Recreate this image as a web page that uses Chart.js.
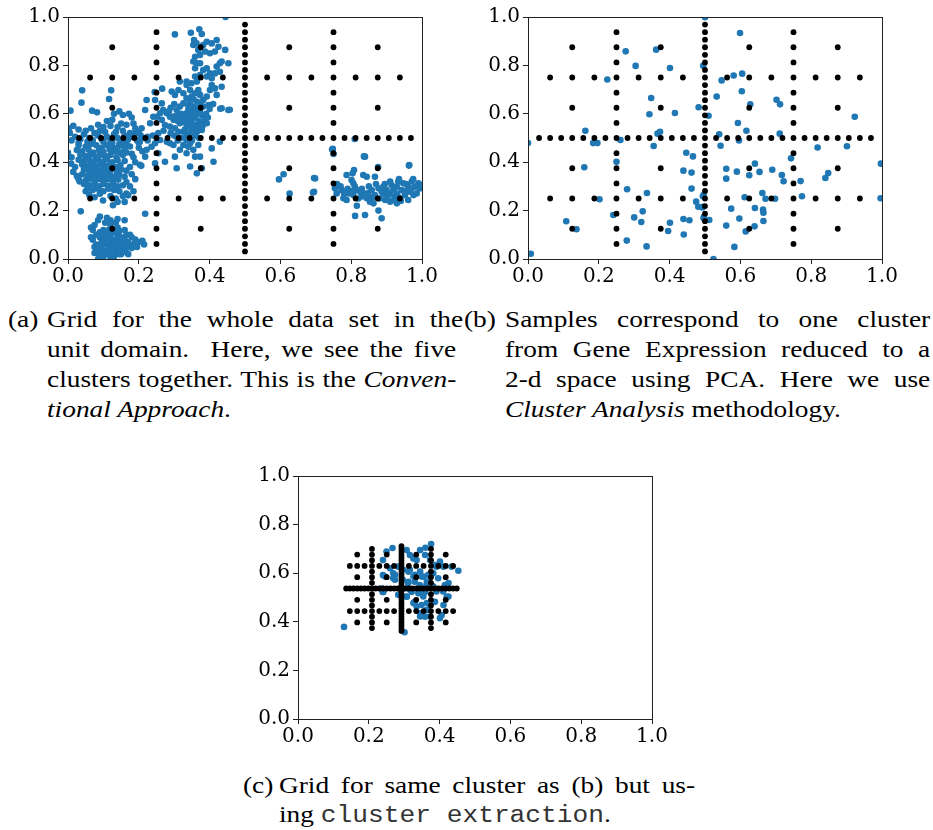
<!DOCTYPE html>
<html><head><meta charset="utf-8">
<script src="https://cdn.jsdelivr.net/npm/chart.js@4/dist/chart.umd.min.js"></script>
<style>
html,body{margin:0;padding:0;background:#fff;}
body{width:933px;height:830px;position:relative;overflow:hidden;}
canvas{position:absolute;}
.cap{position:absolute;font-family:"Liberation Serif",serif;font-size:24px;line-height:30px;color:#000;white-space:nowrap;transform:scaleX(1.14);transform-origin:0 0;}
.j{text-align:justify;text-align-last:justify;}
.mono{font-family:"Liberation Mono",monospace;font-size:23px;color:#333;}
</style></head>
<body>
<canvas id="ca" width="450" height="290" style="left:0;top:0"></canvas>
<canvas id="cb" width="473" height="290" style="left:460px;top:0"></canvas>
<canvas id="cc" width="450" height="291" style="left:230px;top:459px"></canvas>

<div class="cap" style="left:8px;top:304px">(a)</div>
<div class="cap j" style="left:47px;top:304px;width:365px">Grid for the whole data set in the</div>
<div class="cap j" style="left:47px;top:334px;width:359px">unit domain.&nbsp; Here, we see the five</div>
<div class="cap j" style="left:47px;top:364px;width:359px">clusters together. This is the <i>Conven-</i></div>
<div class="cap" style="left:47px;top:394px"><i>tional Approach</i>.</div>

<div class="cap" style="left:464px;top:304px">(b)</div>
<div class="cap j" style="left:505px;top:304px;width:373px">Samples correspond to one cluster</div>
<div class="cap j" style="left:505px;top:334px;width:373px">from Gene Expression reduced to a</div>
<div class="cap j" style="left:505px;top:364px;width:373px">2-d space using PCA. Here we use</div>
<div class="cap" style="left:505px;top:394px"><i>Cluster Analysis</i> methodology.</div>

<div class="cap" style="left:243px;top:770px">(c)</div>
<div class="cap j" style="left:279px;top:770px;width:365px">Grid for same cluster as (b) but us-</div>
<div class="cap" style="left:279px;top:799px">ing <span class="mono">cluster extraction</span>.</div>

<script>
// ---------- tick labels ----------
const tickValues = [0, 0.2, 0.4, 0.6, 0.8, 1.0];

// ---------- sparse grid (indices in units of 1/32 of the grid box) ----------
const gridColsA = [16];
const gridRowsA = [1,2,3,4,5,6,7,8,9,10,11,12,13,14,15,16,17,18,19,20,21,22,23,24,25,26,27,28,29,30,31];
const gridColsB = [8,24];
const gridRowsB = [2,4,6,8,10,12,14,16,18,20,22,24,26,28,30];
const gridColsC = [4,12,20,28];
const gridRowsC = [4,8,12,16,20,24,28];
const gridColsD = [2,6,10,14,18,22,26,30];
const gridRowsD = [8,16,24];
const gridColsE = [1,3,5,7,9,11,13,15,17,19,21,23,25,27,29,31];
const gridRowsE = [16];

// grid boxes: (a),(b) whole unit domain, (c) extracted cluster box
const boxUnitX = [0, 1], boxUnitY = [0, 1];
const boxClusterX = [0.1256, 0.459], boxClusterY = [0.351, 0.723];

// ---------- blue samples ----------
const blueA = [
// bottom cluster
[0.065,0.13],[0.07,0.12],[0.075,0.14],[0.085,0.16],[0.09,0.175],[0.11,0.17],[0.105,0.15],[0.12,0.14],[0.135,0.15],[0.14,0.13],[0.16,0.12],[0.165,0.10],[0.18,0.09],[0.19,0.08],[0.2,0.07],[0.215,0.06],[0.185,0.06],[0.17,0.05],[0.155,0.04],[0.15,0.02],[0.14,0.03],[0.13,0.01],[0.12,0.0],[0.11,0.02],[0.1,0.01],[0.09,0.03],[0.085,0.0],[0.075,0.05],[0.07,0.08],[0.065,0.09],[0.08,0.10],[0.09,0.09],[0.095,0.07],[0.1,0.06],[0.105,0.08],[0.11,0.10],[0.115,0.12],[0.12,0.09],[0.125,0.07],[0.13,0.06],[0.135,0.08],[0.14,0.1],[0.145,0.07],[0.15,0.09],[0.155,0.06],[0.16,0.08],[0.17,0.07],[0.175,0.1],[0.13,0.11],[0.1,0.12],[0.09,0.11],[0.08,0.06],[0.085,0.04],[0.095,0.05],[0.105,0.03],[0.115,0.05],[0.12,0.04],[0.125,0.02],[0.135,0.04],[0.14,0.055],[0.145,0.02],[0.16,0.03],[0.165,0.045],[0.11,0.07],[0.1,0.095],[0.12,0.11],[0.145,0.115],[0.075,0.025],[0.09,0.015],[0.11,0.035],[0.13,0.035],[0.15,0.055],[0.17,0.02],[0.18,0.045],[0.195,0.05],[0.036,0.197],[0.218,0.187],[0.21,0.075],[0.12,0.16],[0.16,0.16],[0.14,0.165],
// left cluster, upper sparse part
[0.04,0.697],[0.038,0.646],[0.007,0.613],[0.116,0.661],[0.122,0.697],[0.068,0.613],[0.082,0.606],[0.002,0.54],[0.005,0.521],[0.125,0.575],[0.11,0.57],[0.13,0.60],[0.145,0.61],[0.155,0.595],[0.172,0.60],[0.18,0.585],[0.185,0.56],[0.165,0.555],[0.15,0.56],[0.14,0.545],[0.12,0.55],[0.1,0.545],[0.085,0.555],[0.065,0.54],[0.05,0.53],[0.03,0.535],[0.015,0.55],[0.19,0.54],[0.2,0.525],[0.175,0.52],[0.155,0.53],[0.135,0.525],[0.105,0.525],[0.09,0.53],[0.075,0.52],
// left cluster, band near y=0.5
[0.02,0.505],[0.035,0.495],[0.045,0.515],[0.06,0.5],[0.07,0.49],[0.085,0.51],[0.095,0.495],[0.11,0.505],[0.12,0.49],[0.13,0.515],[0.14,0.5],[0.15,0.49],[0.16,0.51],[0.17,0.495],[0.18,0.505],[0.195,0.49],[0.205,0.51],[0.215,0.5],[0.225,0.49],[0.19,0.52],[0.165,0.48],[0.145,0.475],[0.125,0.48],[0.1,0.485],[0.055,0.485],[0.03,0.48],[0.01,0.49],
[0.2,0.46],[0.21,0.445],[0.18,0.435],[0.185,0.42],[0.165,0.44],[0.207,0.385],[0.19,0.40],[0.175,0.465],[0.2,0.48],[0.16,0.455],
// left cluster, dense core
[0.03,0.47],[0.05,0.465],[0.065,0.475],[0.08,0.47],[0.095,0.46],[0.11,0.47],[0.125,0.465],[0.14,0.46],[0.155,0.47],
[0.025,0.45],[0.04,0.445],[0.058,0.452],[0.072,0.44],[0.088,0.45],[0.1,0.443],[0.118,0.452],[0.133,0.445],[0.148,0.44],
[0.035,0.43],[0.05,0.425],[0.063,0.432],[0.078,0.42],[0.09,0.43],[0.105,0.425],[0.12,0.43],[0.137,0.42],[0.155,0.43],
[0.03,0.41],[0.045,0.405],[0.06,0.41],[0.072,0.4],[0.085,0.41],[0.098,0.402],[0.11,0.412],[0.125,0.4],[0.14,0.408],[0.16,0.405],
[0.04,0.39],[0.055,0.385],[0.068,0.392],[0.08,0.383],[0.093,0.39],[0.107,0.385],[0.12,0.392],[0.133,0.38],[0.148,0.388],
[0.045,0.37],[0.06,0.365],[0.072,0.372],[0.085,0.362],[0.097,0.37],[0.11,0.365],[0.123,0.372],[0.138,0.36],[0.15,0.37],[0.165,0.365],
[0.04,0.35],[0.055,0.345],[0.068,0.352],[0.08,0.342],[0.092,0.35],[0.105,0.345],[0.118,0.352],[0.13,0.34],[0.145,0.348],[0.16,0.34],
[0.03,0.33],[0.05,0.325],[0.063,0.332],[0.076,0.322],[0.09,0.33],[0.102,0.322],[0.115,0.33],[0.128,0.32],[0.142,0.328],[0.165,0.318],
[0.045,0.31],[0.06,0.305],[0.075,0.31],[0.088,0.3],[0.1,0.31],[0.113,0.302],[0.127,0.31],[0.14,0.3],[0.155,0.305],
[0.055,0.29],[0.07,0.285],[0.085,0.29],[0.1,0.28],[0.115,0.29],[0.13,0.285],[0.145,0.28],
[0.06,0.265],[0.075,0.255],[0.09,0.27],[0.12,0.26],[0.135,0.25],[0.155,0.26],[0.165,0.27],[0.14,0.236],[0.127,0.222],[0.099,0.242],[0.16,0.236],[0.17,0.263],[0.025,0.343],[0.033,0.32],[0.009,0.394],[0.0,0.439],[0.015,0.36],[0.01,0.42],[0.02,0.38],
[0.05,0.28],[0.175,0.3],[0.18,0.35],[0.19,0.33],[0.175,0.38],[0.185,0.28],
// middle cluster
[0.302,0.928],[0.347,0.935],[0.371,0.949],[0.378,0.930],[0.356,0.905],[0.363,0.891],[0.354,0.884],[0.368,0.864],[0.382,0.884],[0.392,0.898],[0.406,0.891],[0.420,0.905],[0.425,0.877],[0.415,0.857],[0.401,0.850],[0.387,0.857],[0.373,0.843],[0.359,0.836],[0.354,0.816],[0.364,0.809],[0.359,0.788],[0.373,0.809],[0.382,0.781],[0.392,0.788],[0.401,0.767],[0.406,0.747],[0.420,0.795],[0.429,0.809],[0.434,0.816],[0.444,0.864],[0.453,0.809],[0.429,0.774],[0.415,0.767],[0.392,0.754],[0.373,0.760],[0.359,0.754],[0.364,0.733],[0.349,0.726],[0.335,0.733],[0.335,0.719],[0.345,0.698],[0.349,0.671],[0.359,0.685],[0.368,0.698],[0.373,0.678],[0.382,0.657],[0.392,0.671],[0.397,0.636],[0.382,0.630],[0.373,0.616],[0.364,0.623],[0.354,0.630],[0.340,0.636],[0.326,0.643],[0.316,0.630],[0.307,0.616],[0.312,0.595],[0.321,0.588],[0.335,0.602],[0.345,0.588],[0.354,0.581],[0.364,0.602],[0.378,0.595],[0.387,0.581],[0.392,0.561],[0.378,0.561],[0.368,0.547],[0.359,0.554],[0.349,0.561],[0.335,0.554],[0.326,0.568],[0.316,0.561],[0.298,0.575],[0.288,0.588],[0.279,0.602],[0.269,0.616],[0.260,0.602],[0.251,0.588],[0.265,0.575],[0.274,0.554],[0.288,0.547],[0.302,0.540],[0.312,0.526],[0.326,0.526],[0.335,0.513],[0.345,0.520],[0.354,0.533],[0.364,0.526],[0.378,0.533],[0.335,0.492],[0.345,0.478],[0.326,0.471],[0.340,0.464],[0.354,0.451],[0.368,0.471],[0.373,0.423],[0.359,0.423],[0.335,0.437],[0.316,0.451],[0.302,0.423],[0.298,0.471],[0.288,0.478],[0.279,0.485],[0.260,0.492],[0.246,0.478],[0.236,0.464],[0.222,0.451],[0.203,0.485],[0.218,0.423],[0.203,0.389],[0.255,0.437],[0.246,0.395],[0.274,0.402],[0.307,0.375],[0.345,0.382],[0.364,0.354],[0.378,0.375],[0.406,0.457],[0.411,0.402],[0.429,0.485],[0.434,0.623],[0.453,0.616],[0.420,0.678],[0.415,0.705],[0.434,0.712],[0.316,0.733],[0.293,0.692],[0.302,0.678],[0.222,0.657],[0.246,0.657],[0.265,0.643],[0.218,0.616],[0.241,0.588],[0.232,0.561],[0.208,0.540],[0.312,0.698],[0.326,0.685],[0.335,0.664],[0.401,0.698],[0.406,0.719],
[0.33,0.58],[0.34,0.57],[0.35,0.6],[0.36,0.59],[0.37,0.57],[0.34,0.62],[0.355,0.61],[0.345,0.545],[0.33,0.535],[0.36,0.51],[0.37,0.5],[0.38,0.55],[0.39,0.6],[0.40,0.62],[0.41,0.64],[0.395,0.585],[0.32,0.6],[0.31,0.57],[0.3,0.59],[0.285,0.61],[0.29,0.625],[0.3,0.64],[0.375,0.64],[0.365,0.65],[0.355,0.66],[0.345,0.65],[0.34,0.5],[0.32,0.5],[0.31,0.49],[0.35,0.49],[0.3,0.51],[0.29,0.52],[0.27,0.53],[0.255,0.52],[0.24,0.51],[0.225,0.505],[0.266,0.704],[0.245,0.69],[0.445,1.0],[0.457,0.617],[0.43,0.621],
// right cluster
[0.748,0.455],[0.750,0.434],[0.839,0.423],[0.964,0.388],[0.698,0.333],[0.695,0.278],[0.787,0.347],[0.808,0.368],[0.804,0.354],[0.801,0.326],[0.806,0.313],[0.834,0.347],[0.844,0.340],[0.867,0.340],[0.754,0.292],[0.759,0.271],[0.773,0.285],[0.778,0.251],[0.787,0.244],[0.792,0.271],[0.806,0.264],[0.816,0.285],[0.825,0.278],[0.830,0.258],[0.844,0.251],[0.848,0.271],[0.858,0.285],[0.867,0.264],[0.877,0.292],[0.886,0.278],[0.891,0.299],[0.900,0.285],[0.905,0.264],[0.914,0.306],[0.919,0.285],[0.924,0.258],[0.929,0.299],[0.933,0.320],[0.943,0.285],[0.947,0.313],[0.952,0.264],[0.961,0.299],[0.966,0.278],[0.971,0.320],[0.980,0.299],[0.985,0.271],[0.990,0.313],[0.994,0.292],[0.816,0.220],[0.839,0.182],[0.877,0.200],[0.886,0.168],[0.811,0.178],[0.853,0.237],[0.863,0.230],[0.896,0.244],[0.938,0.251],[0.929,0.230],[0.910,0.237],[0.976,0.264],[0.961,0.244],
[0.76,0.31],[0.77,0.30],[0.79,0.29],[0.81,0.30],[0.83,0.29],[0.85,0.30],[0.87,0.31],[0.89,0.27],[0.91,0.27],[0.93,0.27],[0.95,0.28],[0.97,0.29],[0.99,0.30],[1.0,0.305],[0.86,0.255],[0.88,0.25],[0.9,0.255],[0.92,0.245],[0.94,0.24],[0.82,0.25],[0.84,0.27],[0.80,0.28],[0.78,0.27],[0.955,0.31],[0.975,0.33],[0.935,0.33],[0.91,0.32],[0.895,0.31],
[0.596,0.329],[0.609,0.35],[0.626,0.27],[0.695,0.335],[0.692,0.275],[0.746,0.452],[0.81,0.496],[0.836,0.424],[0.876,0.38],[0.963,0.386]
];

const blueB = [
[0.0,0.479],[0.008,0.022],[0.108,0.156],[0.137,0.123],[0.159,0.379],[0.162,0.530],[0.184,0.479],[0.196,0.479],[0.202,0.247],[0.224,0.742],[0.241,0.182],[0.250,0.402],[0.261,0.492],[0.276,0.858],[0.280,0.288],[0.279,0.076],[0.300,0.172],[0.304,0.798],[0.320,0.153],[0.324,0.197],[0.336,0.273],[0.335,0.052],[0.343,0.598],[0.348,0.665],[0.355,0.467],[0.362,0.865],[0.366,0.518],[0.373,0.526],[0.401,0.789],[0.396,0.116],[0.401,0.150],[0.415,0.603],[0.439,0.365],[0.439,0.165],[0.440,0.101],[0.447,0.439],[0.456,0.160],[0.462,0.357],[0.462,0.291],[0.466,0.424],[0.475,0.237],[0.481,0.216],[0.482,0.627],[0.492,0.213],[0.495,0.799],[0.494,0.259],[0.496,0.168],[0.500,0.999],[0.510,0.592],[0.512,0.161],[0.524,0.0],[0.533,0.671],[0.540,0.515],[0.544,0.468],[0.547,0.738],[0.560,0.373],[0.560,0.332],[0.560,0.138],[0.574,0.208],[0.581,0.758],[0.583,0.050],[0.590,0.361],[0.593,0.562],[0.596,0.490],[0.597,0.167],[0.599,0.934],[0.604,0.693],[0.605,0.766],[0.612,0.255],[0.615,0.114],[0.617,0.530],[0.625,0.346],[0.628,0.639],[0.640,0.135],[0.641,0.394],[0.641,0.211],[0.654,0.360],[0.662,0.273],[0.664,0.204],[0.665,0.191],[0.665,0.157],[0.671,0.249],[0.690,0.369],[0.698,0.249],[0.702,0.658],[0.712,0.639],[0.711,0.518],[0.717,0.347],[0.722,0.321],[0.743,0.416],[0.770,0.322],[0.774,0.259],[0.818,0.461],[0.840,0.335],[0.848,0.355],[0.901,0.466],[0.923,0.588],[0.997,0.394],[0.996,0.251],[0.496,0.264],[0.497,0.174],[0.494,0.216]
];

const blueC = [
[0.130,0.379],[0.301,0.357],[0.376,0.720],[0.453,0.610],[0.267,0.704],[0.250,0.689],[0.240,0.654],[0.240,0.592],[0.239,0.523],[0.307,0.695],[0.345,0.695],[0.360,0.705],[0.359,0.675],[0.316,0.675],[0.326,0.661],[0.401,0.648],[0.391,0.627],[0.434,0.627],[0.425,0.559],[0.425,0.504],[0.401,0.415],[0.373,0.422],[0.345,0.422],[0.335,0.463],[0.326,0.477],[0.307,0.504],[0.283,0.511],[0.269,0.600],[0.274,0.573],[0.297,0.614],[0.316,0.614],[0.326,0.586],[0.345,0.607],[0.354,0.586],[0.364,0.566],[0.382,0.600],[0.349,0.525],[0.354,0.504],[0.316,0.532],[0.311,0.559],[0.296,0.573],[0.382,0.546],[0.391,0.525],[0.410,0.525],[0.364,0.477],[0.368,0.450],
[0.335,0.654],[0.373,0.654],[0.387,0.634],[0.411,0.627],[0.260,0.620],[0.246,0.586],[0.274,0.593],[0.312,0.606],[0.330,0.593],[0.349,0.586],[0.368,0.593],[0.396,0.579],[0.415,0.551],[0.312,0.565],[0.330,0.565],[0.344,0.551],[0.363,0.551],[0.321,0.523],[0.340,0.517],[0.359,0.523],[0.307,0.503],[0.330,0.482],[0.349,0.469],[0.363,0.448],[0.387,0.482],[0.411,0.469],[0.420,0.503],[0.241,0.523],[0.236,0.537],[0.406,0.428],[0.359,0.421],[0.345,0.435],[0.269,0.579],[0.283,0.627]
];

// ---------- build grid points from index arrays ----------
const gridBands = [[gridColsA,gridRowsA],[gridColsB,gridRowsB],[gridColsC,gridRowsC],[gridColsD,gridRowsD],[gridColsE,gridRowsE]];
function gridPoints(bx, by) {
  const pts = [];
  for (const [cols, rows] of gridBands)
    for (const c of cols) for (const r of rows)
      pts.push({x: bx[0] + (bx[1]-bx[0]) * c / 32, y: by[0] + (by[1]-by[0]) * r / 32});
  return pts;
}
const toXY = arr => arr.map(p => ({x: p[0], y: p[1]}));

const framePlugin = {
  id: 'frame',
  afterDraw(chart) {
    const a = chart.chartArea, ctx = chart.ctx;
    ctx.save();
    ctx.strokeStyle = '#222';
    ctx.lineWidth = 1;
    ctx.strokeRect(Math.round(a.left) + 0.5, Math.round(a.top) + 0.5, Math.round(a.right - a.left), Math.round(a.bottom - a.top));
    ctx.restore();
  }
};

function axis(isX) {
  return {
    type: 'linear', min: 0, max: 1,
    afterBuildTicks: s => { s.ticks = tickValues.map(v => ({value: v})); },
    ticks: {
      callback: v => Number(v).toFixed(1),
      font: {family: 'DejaVu Serif', size: 20},
      color: '#000', padding: isX ? 1 : 3, maxRotation: 0, autoSkip: false
    },
    grid: {display: true, drawOnChartArea: false, drawTicks: true, tickLength: 5, tickColor: '#222', tickWidth: 1},
    border: {display: false},
    afterFit: s => { if (isX) s.height = 31; else s.width = 68; }
  };
}

function makeChart(id, blue, black, padRight) {
  new Chart(document.getElementById(id), {
    type: 'scatter',
    data: {datasets: [
      {data: black, backgroundColor: '#000', pointRadius: 2.9, pointBorderWidth: 0, pointHoverRadius: 2.9},
      {data: toXY(blue), backgroundColor: '#1f77b4', pointRadius: 3.3, pointBorderWidth: 0, pointHoverRadius: 3.3}
    ]},
    options: {
      responsive: false, animation: false, events: [],
      layout: {padding: {top: 17, right: padRight, left: 0, bottom: 0}},
      plugins: {legend: {display: false}, tooltip: {enabled: false}},
      scales: {x: axis(true), y: axis(false)}
    },
    plugins: [framePlugin]
  });
}

makeChart('ca', blueA, gridPoints(boxUnitX, boxUnitY), 28);
makeChart('cb', blueB, gridPoints(boxUnitX, boxUnitY), 51);
makeChart('cc', blueC, gridPoints(boxClusterX, boxClusterY), 28);
</script>
</body></html>
